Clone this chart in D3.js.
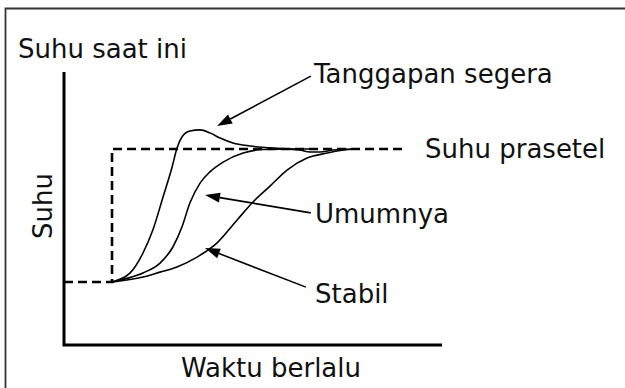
<!DOCTYPE html>
<html><head><meta charset="utf-8">
<script src="https://cdn.jsdelivr.net/npm/d3@7"></script>
<style>body{margin:0;background:#fff}svg{display:block}text{font-family:"DejaVu Sans",Verdana,sans-serif;fill:#111}</style>
</head><body>
<script>
// Data in chart units: time t (0-100), temperature v (0-100)
const startTemp = 23.1;
const setPoint = 71.8;
const stepTime = 12.7;
const setEnd = 90.2;
const fastResponse = [[12.7,23.1],[17.5,26.4],[20.9,33.7],[23.5,42.1],[26.2,54.2],[28.6,65.2],[29.9,72.2],[31.2,76.2],[33.3,78.4],[36.0,78.8],[38.6,77.7],[41.3,75.8],[44.7,74.0],[49.2,72.9],[54.5,72.2],[62.4,71.4],[65.1,70.7],[67.7,70.7],[71.2,71.4],[76.5,71.8]];
const typicalResponse = [[12.7,23.1],[16.9,24.5],[20.9,26.4],[25.4,30.0],[28.8,35.9],[31.2,43.2],[33.3,52.0],[36.0,59.3],[38.6,63.4],[42.1,67.0],[47.4,70.3],[52.6,71.6],[59.0,71.8],[66.9,71.8]];
const stableResponse = [[12.7,23.1],[20.9,24.9],[25.4,26.7],[29.9,28.6],[35.2,32.2],[40.5,37.4],[45.8,45.8],[50.0,52.4],[54.5,58.2],[59.0,64.1],[64.3,68.5],[69.6,70.3],[73.8,71.4],[77.5,71.8]];
const labels = ["Tanggapan segera","Umumnya","Stabil","Suhu prasetel"];
const arrowTips = [[40.5,80.2],[37.3,54.9],[37.3,35.5]];
const arrowTails = [[65.3,98.5],[65.3,48.4],[64.0,21.2]];
const titleText = "Suhu saat ini";
const xTitle = "Waktu berlalu";
const yTitle = "Suhu";

const W = 625, H = 388;
const svg = d3.select("body").append("svg").attr("width", W).attr("height", H);

// frame
svg.append("path").attr("d", `M5.5,${H} V8.5 H${W}`).attr("fill","none").attr("stroke","#333").attr("stroke-width",1.8);

const x = d3.scaleLinear().domain([0,100]).range([64,442]);
const y = d3.scaleLinear().domain([0,100]).range([345,72]);

// axes
svg.append("path").attr("d", `M${x(0)},${y(100)} V${y(0)} H${x(100)}`)
  .attr("fill","none").attr("stroke","#000").attr("stroke-width",3);

// set point dashed line
const dashData = [[0,startTemp],[stepTime,startTemp],[stepTime,setPoint],[setEnd,setPoint]];
svg.append("path").datum(dashData)
  .attr("d", d3.line().x(d=>x(d[0])).y(d=>y(d[1])))
  .attr("fill","none").attr("stroke","#000").attr("stroke-width",2.6).attr("stroke-dasharray","9,5");

const line = d3.line().x(d=>x(d[0])).y(d=>y(d[1])).curve(d3.curveMonotoneX);
[fastResponse, typicalResponse, stableResponse].forEach(s=>{
  svg.append("path").datum(s).attr("d", line).attr("fill","none").attr("stroke","#000").attr("stroke-width",1.6);
});

// arrows
arrowTips.forEach((tip,i)=>{
  const tail = arrowTails[i];
  const tx = x(tip[0]), ty = y(tip[1]), sx = x(tail[0]), sy = y(tail[1]);
  const ang = Math.atan2(ty-sy, tx-sx);
  const L = 15, hw = 5;
  const bx = tx - L*Math.cos(ang), by = ty - L*Math.sin(ang);
  svg.append("line").attr("x1",sx).attr("y1",sy).attr("x2",bx).attr("y2",by).attr("stroke","#000").attr("stroke-width",1.6);
  const p1 = [bx + hw*Math.sin(ang), by - hw*Math.cos(ang)];
  const p2 = [bx - hw*Math.sin(ang), by + hw*Math.cos(ang)];
  svg.append("path").attr("d",`M${tx},${ty}L${p1[0]},${p1[1]}L${p2[0]},${p2[1]}Z`).attr("fill","#000");
});

const fs = 26;
const labelPos = [[314,83],[315,223],[315,303],[425,158]];
labels.forEach((t,i)=>{
  svg.append("text").attr("x",labelPos[i][0]).attr("y",labelPos[i][1]).attr("font-size",fs).text(t);
});
svg.append("text").attr("x",18).attr("y",58).attr("font-size",fs).text(titleText);
svg.append("text").attr("x",(x(0)+x(100))/2+18).attr("y",377).attr("font-size",fs).attr("text-anchor","middle").text(xTitle);
svg.append("text").attr("transform",`translate(52,206) rotate(-90)`).attr("font-size",fs).attr("text-anchor","middle").text(yTitle);
</script>
</body></html>
